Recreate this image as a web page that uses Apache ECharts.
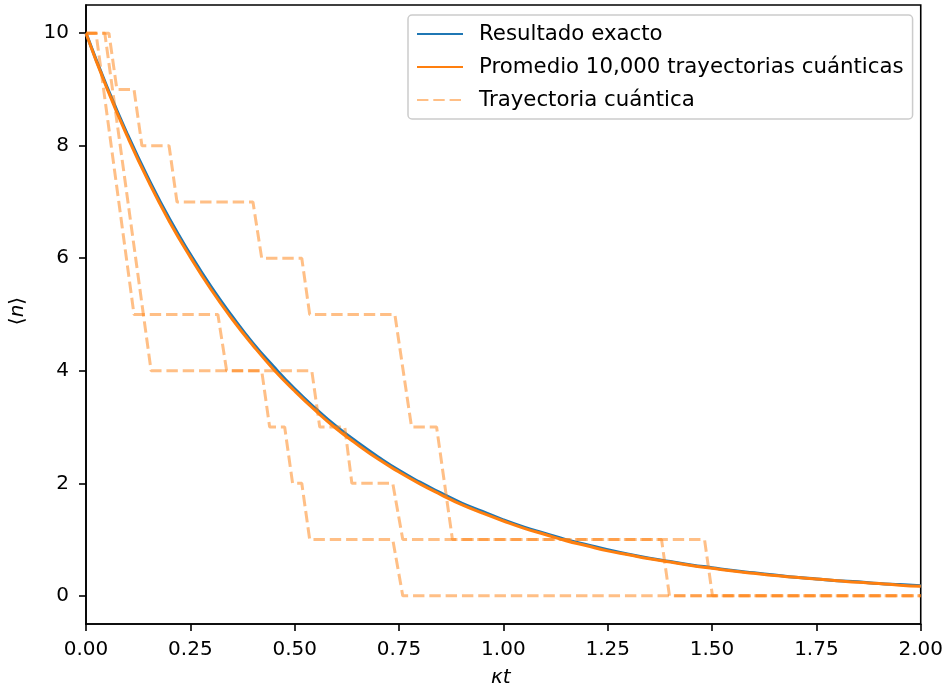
<!DOCTYPE html>
<html>
<head>
<meta charset="utf-8">
<script src="https://cdn.jsdelivr.net/npm/echarts@6/dist/echarts.min.js"></script>
<style>html,body{margin:0;padding:0;background:#fff;}#c{width:946px;height:692px;}</style>
</head>
<body>
<div id="c"></div>
<script>
// ---- data ----
const tGrid = [0,0.05,0.10,0.15,0.20,0.25,0.30,0.35,0.40,0.45,0.50,0.55,0.60,0.65,0.70,0.75,0.80,0.85,0.90,0.95,1.00,1.05,1.10,1.15,1.20,1.25,1.30,1.35,1.40,1.45,1.50,1.55,1.60,1.65,1.70,1.75,1.80,1.85,1.90,1.95,2.00];
const exactValues = [10.00,9.05,8.19,7.41,6.70,6.07,5.49,4.97,4.49,4.07,3.68,3.33,3.01,2.73,2.47,2.23,2.02,1.83,1.65,1.50,1.35,1.22,1.11,1.00,0.91,0.82,0.74,0.67,0.61,0.55,0.50,0.45,0.41,0.37,0.33,0.30,0.27,0.25,0.22,0.20,0.18];
const averageValues = [10.00,9.02,8.15,7.36,6.65,6.02,5.44,4.92,4.45,4.02,3.64,3.29,2.97,2.69,2.43,2.20,1.99,1.80,1.62,1.47,1.33,1.20,1.09,0.98,0.89,0.80,0.73,0.66,0.60,0.54,0.49,0.44,0.40,0.36,0.33,0.30,0.27,0.24,0.22,0.19,0.17];

const trajATimes  = [0, 0.024, 0.115, 0.316, 0.337, 0.421, 0.440, 0.476, 0.495, 0.517, 0.536, 0.735, 0.759, 2.0];
const trajAValues = [10, 10, 5, 5, 4, 4, 3, 3, 2, 2, 1, 1, 0, 0];
const trajBTimes  = [0, 0.045, 0.156, 0.541, 0.560, 0.620, 0.637, 0.735, 0.759, 1.482, 1.501, 2.0];
const trajBValues = [10, 10, 4, 4, 3, 3, 2, 2, 1, 1, 0, 0];
const trajCTimes  = [0, 0.055, 0.074, 0.115, 0.134, 0.199, 0.218, 0.400, 0.421, 0.517, 0.536, 0.740, 0.780, 0.840, 0.878, 1.379, 1.398, 2.0];
const trajCValues = [10, 10, 9, 9, 8, 8, 7, 7, 6, 6, 5, 5, 3, 3, 1, 1, 0, 0];

const yTicks = [0, 2, 4, 6, 8, 10];
const seriesNames = ['Resultado exacto', 'Promedio 10,000 trayectorias cuánticas', 'Trayectoria cuántica'];
const xTitle = 'κt';

// ---- build ----
const zip = (a, b) => a.map((v, i) => [v, b[i]]);
const FONT = 'DejaVu Sans';
const BLUE = '#1f77b4', ORANGE = '#ff7f0e';
const dashStyle = {color: ORANGE, width: 3, type: [11.4, 4.9], opacity: 0.5};

const chart = echarts.init(document.getElementById('c'), null, {renderer: 'canvas'});
chart.setOption({
  animation: false,
  backgroundColor: '#fff',
  textStyle: {fontFamily: FONT},
  grid: {left: 86, right: 25, top: 5, bottom: 68, show: true, borderColor: '#000', borderWidth: 1.6, backgroundColor: 'transparent'},
  xAxis: {
    type: 'value', min: 0, max: 2, interval: 0.25,
    axisLine: {show: true, onZero: false, lineStyle: {color: '#000', width: 1.6}},
    axisTick: {show: true, length: 7, lineStyle: {color: '#000', width: 1.6}},
    axisLabel: {color: '#000', fontSize: 20, fontFamily: FONT, margin: 16, formatter: v => v.toFixed(2)},
    splitLine: {show: false}
  },
  yAxis: {
    type: 'value', min: -0.5, max: 10.5,
    axisLine: {show: true, onZero: false, lineStyle: {color: '#000', width: 1.6}},
    axisTick: {show: true, length: 7, customValues: yTicks, lineStyle: {color: '#000', width: 1.6}},
    axisLabel: {color: '#000', fontSize: 20, fontFamily: FONT, margin: 17, customValues: yTicks, formatter: v => String(v)},
    splitLine: {show: false}
  },
  legend: {
    show: true, orient: 'vertical', left: 408, top: 15,
    data: seriesNames,
    itemWidth: 46, itemHeight: 14, itemGap: 11,
    padding: [8, 9, 8, 8],
    backgroundColor: '#fff', borderColor: '#cccccc', borderWidth: 1.5, borderRadius: 4,
    itemStyle: {opacity: 0, borderWidth: 0},
    textStyle: {color: '#000', fontSize: 21.3, lineHeight: 22, fontFamily: FONT, padding: [0, 0, 0, 11]},
    selectedMode: false
  },
  graphic: [
    {type: 'text', left: 491, top: 668, style: {text: xTitle, font: 'italic 20px "DejaVu Sans"', fill: '#000'}},
    {type: 'text', x: 18, y: 311, rotation: Math.PI / 2,
     style: {text: '{a|⟨}{b|n}{a|⟩}', align: 'center', verticalAlign: 'middle', fill: '#000',
       rich: {a: {fontSize: 20, fontFamily: FONT, fill: '#000'}, b: {fontSize: 20, fontFamily: FONT, fontStyle: 'italic', fill: '#000'}}}}
  ],
  series: [
    {name: seriesNames[0], type: 'line', data: zip(tGrid, exactValues), showSymbol: false, symbol: 'none', smooth: true,
     lineStyle: {color: BLUE, width: 3}, itemStyle: {color: BLUE}, z: 2},
    {name: seriesNames[1], type: 'line', data: zip(tGrid, averageValues), showSymbol: false, symbol: 'none', smooth: true,
     lineStyle: {color: ORANGE, width: 3}, itemStyle: {color: ORANGE}, z: 3},
    {name: seriesNames[2], type: 'line', data: zip(trajATimes, trajAValues), showSymbol: false, symbol: 'none',
     lineStyle: dashStyle, itemStyle: {color: ORANGE, opacity: 0.5}, z: 4},
    {name: seriesNames[2], type: 'line', data: zip(trajBTimes, trajBValues), showSymbol: false, symbol: 'none',
     lineStyle: dashStyle, itemStyle: {color: ORANGE, opacity: 0.5}, z: 4},
    {name: seriesNames[2], type: 'line', data: zip(trajCTimes, trajCValues), showSymbol: false, symbol: 'none',
     lineStyle: dashStyle, itemStyle: {color: ORANGE, opacity: 0.5}, z: 4}
  ]
});
</script>
</body>
</html>
